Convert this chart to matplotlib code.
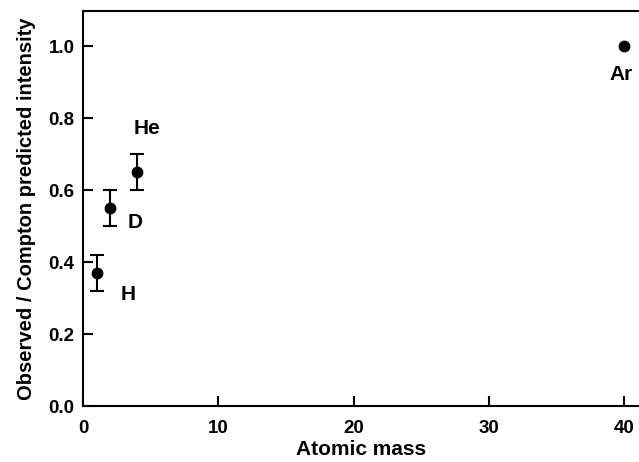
import numpy as np
import matplotlib.pyplot as plt

plt.rcParams['font.family'] = ['Liberation Sans', 'DejaVu Sans']
plt.rcParams['font.weight'] = 'bold'

# data
names = ["H", "D", "He", "Ar"]
mass = [1, 2, 4, 40]
ratio = [0.37, 0.55, 0.65, 1.0]
err = [0.05, 0.05, 0.05, 0.0]
label_x = [3.3, 3.85, 4.75, 39.8]
label_y = [0.31, 0.51, 0.77, 0.92]

fig = plt.figure(figsize=(6.39, 4.62), dpi=100)
ax = fig.add_axes([0.13, 0.121, 0.87, 0.855])

ax.errorbar(mass[:3], ratio[:3], yerr=err[:3], fmt="o", color="black",
            ms=7.5, capsize=5, elinewidth=1.5, capthick=1.5)
ax.plot(mass[3:], ratio[3:], "o", color="black", ms=7.5)
for n, lx, ly in zip(names, label_x, label_y):
    ax.text(lx, ly, n, fontsize=15, fontweight="bold", ha="center", va="center")

ax.set_xlim(0, 41.1)
ax.set_ylim(0, 1.097)
ax.set_xticks([0, 10, 20, 30, 40])
ax.set_yticks([0.0, 0.2, 0.4, 0.6, 0.8, 1.0])
ax.set_yticklabels(["0.0", "0.2", "0.4", "0.6", "0.8", "1.0"])
ax.tick_params(direction="in", length=7, width=1.5, labelsize=13.5)
ax.tick_params(axis="x", pad=10)
ax.tick_params(axis="y", pad=6)
ax.spines["right"].set_visible(False)
for s in ["left", "bottom", "top"]:
    ax.spines[s].set_linewidth(1.5)

ax.set_xlabel("Atomic mass", fontsize=15, fontweight="bold", labelpad=2)
ax.set_ylabel("Observed / Compton predicted intensity", fontsize=14.5, fontweight="bold", labelpad=9)

plt.savefig("out.png", dpi=100)
